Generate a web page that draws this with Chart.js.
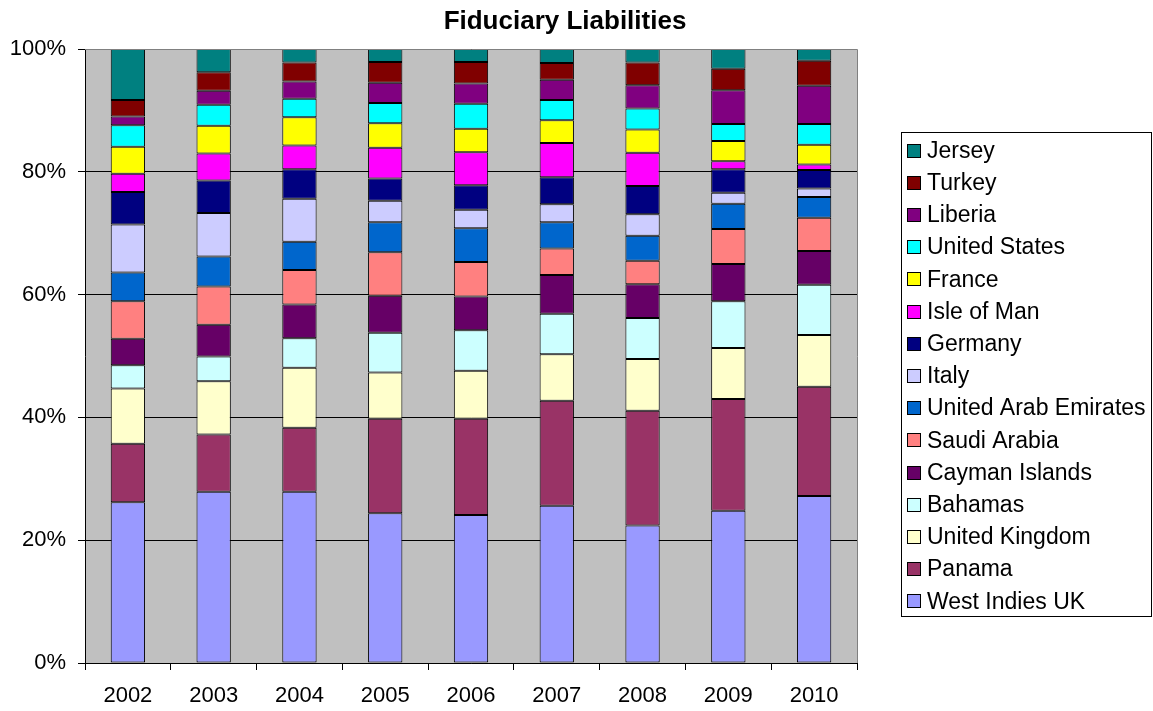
<!DOCTYPE html>
<html>
<head>
<meta charset="utf-8">
<script src="https://cdn.jsdelivr.net/npm/chart.js@4"></script>
<style>
  html, body { margin: 0; padding: 0; background: #fff; }
  #canvas { display: block; }
</style>
</head>
<body>
<canvas id="canvas" width="1153" height="711"></canvas>
<script>
var years = ['2002', '2003', '2004', '2005', '2006', '2007', '2008', '2009', '2010'];
var yTicks = [0, 20, 40, 60, 80, 100];

// shares in %, bottom of the stack first
var westIndiesUK   = [26.2, 27.9, 27.9, 24.4, 24.1, 25.6, 22.4, 24.8, 27.2];
var panama         = [9.5, 9.3, 10.4, 15.4, 15.7, 17.1, 18.7, 18.2, 17.8];
var unitedKingdom  = [9.0, 8.7, 9.8, 7.5, 7.8, 7.6, 8.4, 8.3, 8.4];
var bahamas        = [3.8, 4.0, 4.8, 6.5, 6.6, 6.6, 6.7, 7.6, 8.2];
var caymanIslands  = [4.3, 5.2, 5.5, 6.0, 5.5, 6.3, 5.5, 6.1, 5.5];
var saudiArabia    = [6.1, 6.2, 5.6, 7.1, 5.6, 4.3, 3.8, 5.7, 5.4];
var uae            = [4.7, 4.9, 4.6, 4.9, 5.5, 4.3, 4.1, 4.1, 3.4];
var italy          = [7.8, 7.1, 7.0, 3.5, 3.0, 2.9, 3.5, 1.8, 1.4];
var germany        = [5.3, 5.3, 4.8, 3.6, 4.0, 4.4, 4.6, 3.8, 3.0];
var isleOfMan      = [3.0, 4.4, 3.9, 5.0, 5.4, 5.6, 5.4, 1.3, 0.9];
var france         = [4.4, 4.5, 4.6, 4.0, 3.8, 3.7, 3.8, 3.3, 3.2];
var unitedStates   = [3.5, 3.4, 3.0, 3.3, 4.1, 3.3, 3.4, 2.8, 3.4];
var liberia        = [1.4, 2.3, 2.8, 3.3, 3.3, 3.3, 3.8, 5.5, 6.2];
var turkey         = [2.7, 3.0, 3.1, 3.4, 3.5, 2.7, 3.7, 3.5, 4.1];
var jersey         = [8.3, 3.8, 2.2, 2.1, 2.1, 2.3, 2.2, 3.2, 1.9];

var series = [
  ['West Indies UK', westIndiesUK, '#9999FF'],
  ['Panama', panama, '#993366'],
  ['United Kingdom', unitedKingdom, '#FFFFCC'],
  ['Bahamas', bahamas, '#CCFFFF'],
  ['Cayman Islands', caymanIslands, '#660066'],
  ['Saudi Arabia', saudiArabia, '#FF8080'],
  ['United Arab Emirates', uae, '#0066CC'],
  ['Italy', italy, '#CCCCFF'],
  ['Germany', germany, '#000080'],
  ['Isle of Man', isleOfMan, '#FF00FF'],
  ['France', france, '#FFFF00'],
  ['United States', unitedStates, '#00FFFF'],
  ['Liberia', liberia, '#800080'],
  ['Turkey', turkey, '#800000'],
  ['Jersey', jersey, '#008080']
];

var FONT = '"Liberation Sans", Arial, sans-serif';

var datasets = series.map(function (s) {
  return {
    label: s[0],
    data: s[1],
    backgroundColor: s[2],
    borderColor: '#000',
    borderWidth: 1,
    borderSkipped: false,
    barPercentage: 0.4,
    categoryPercentage: 1.0
  };
});

// grey plot area, title and the boxed legend on the right
var excelLook = {
  id: 'excelLook',
  beforeDraw: function (chart) {
    var ctx = chart.ctx, a = chart.chartArea;
    ctx.save();
    ctx.fillStyle = '#C0C0C0';
    ctx.fillRect(a.left, a.top, a.right - a.left, a.bottom - a.top);
    ctx.restore();
  },
  afterDraw: function (chart) {
    var ctx = chart.ctx, a = chart.chartArea;
    ctx.save();
    ctx.strokeStyle = '#808080';
    ctx.lineWidth = 1;
    ctx.beginPath();
    ctx.moveTo(a.left, a.top + 0.5);
    ctx.lineTo(a.right + 0.5, a.top + 0.5);
    ctx.lineTo(a.right + 0.5, a.bottom);
    ctx.stroke();

    // title
    ctx.fillStyle = '#000';
    ctx.font = 'bold 26px ' + FONT;
    ctx.textAlign = 'center';
    ctx.textBaseline = 'middle';
    ctx.fillText('Fiduciary Liabilities', 565, 22);

    // legend
    ctx.strokeStyle = '#000';
    ctx.strokeRect(901.5, 132.5, 250, 484);
    ctx.font = '23px ' + FONT;
    ctx.textAlign = 'left';
    var ds = chart.data.datasets;
    for (var i = 0; i < ds.length; i++) {
      var d = ds[ds.length - 1 - i];
      var cy = 150.5 + i * 32.2;
      ctx.fillStyle = d.backgroundColor;
      ctx.fillRect(907, Math.round(cy - 7), 14, 14);
      ctx.strokeRect(907.5, Math.round(cy - 7) + 0.5, 13, 13);
      ctx.fillStyle = '#000';
      ctx.fillText(d.label, 927, cy + 1);
    }
    ctx.restore();
  }
};

new Chart(document.getElementById('canvas'), {
  type: 'bar',
  data: { labels: years, datasets: datasets },
  options: {
    responsive: false,
    animation: false,
    layout: { padding: { left: 0, top: 49, right: 296, bottom: 0 } },
    plugins: {
      legend: { display: false },
      title: { display: false },
      tooltip: { enabled: false }
    },
    scales: {
      x: {
        stacked: true,
        afterFit: function (s) { s.height = 48; },
        grid: {
          offset: true,
          drawOnChartArea: false,
          tickLength: 7,
          tickColor: '#000'
        },
        border: { color: '#000', width: 1 },
        ticks: { color: '#000', padding: 13, font: { family: FONT, size: 22 } }
      },
      y: {
        stacked: true,
        min: 0,
        max: 100,
        afterFit: function (s) { s.width = 85; },
        afterBuildTicks: function (s) {
          s.ticks = yTicks.map(function (v) { return { value: v }; });
        },
        grid: {
          color: function (c) { return c.tick && c.tick.value === 100 ? '#808080' : '#000'; },
          tickLength: 7,
          tickColor: '#000'
        },
        border: { color: '#000', width: 1 },
        ticks: {
          color: '#000',
          padding: 12,
          font: { family: FONT, size: 22 },
          callback: function (v) { return v + '%'; }
        }
      }
    }
  },
  plugins: [excelLook]
});
</script>
</body>
</html>
